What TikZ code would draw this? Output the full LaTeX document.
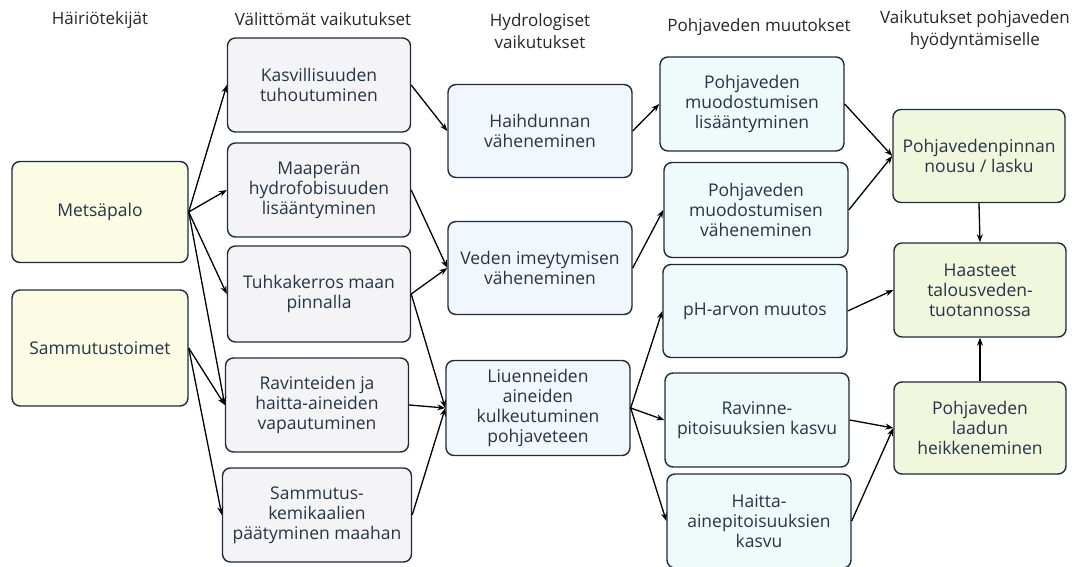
\documentclass[tikz,border=0pt]{standalone}
\usepackage{fontspec}
\setmainfont{Open Sans}
\usetikzlibrary{arrows.meta}
\definecolor{rim}{HTML}{1E2B3C}
\definecolor{ink}{HTML}{263445}
\definecolor{causefill}{HTML}{FCFBE3}
\definecolor{directfill}{HTML}{F4F4F6}
\definecolor{hydrofill}{HTML}{F1F7FC}
\definecolor{groundfill}{HTML}{EFFAFB}
\definecolor{usefill}{HTML}{F1F7DD}
\begin{document}
\begin{tikzpicture}[x=1pt, y=-1pt, >={Stealth[length=8pt,width=6pt]},
    box/.style={draw=rim, line width=1.4pt, rounded corners=8pt, align=center,
        text=ink, inner sep=0pt, minimum height=94pt,
        font=\fontsize{17.5}{20}\selectfont},
    cause/.style={box, fill=causefill, minimum width=176pt},
    direct/.style={box, fill=directfill, minimum width=183pt},
    hydro/.style={box, fill=hydrofill, minimum width=184pt},
    ground/.style={box, fill=groundfill, minimum width=184pt},
    use/.style={box, fill=usefill, minimum width=172pt},
    head/.style={align=center, text=black!85, font=\fontsize{17}{22}\selectfont},
    link/.style={->, line width=1.3pt}]
    \useasboundingbox (0,0) rectangle (1080,567);

    % otsikot
    \node[head] (h1) at (100,20) {Häiriötekijät};
    \node[head] (h2) at (323,19) {Välittömät vaikutukset};
    \node[head] (h3) at (540,31) {Hydrologiset\\vaikutukset};
    \node[head] (h4) at (759,27) {Pohjaveden muutokset};
    \node[head] (h5) at (975,30) {Vaikutukset pohjaveden\\hyödyntämiselle};

    % häiriötekijät
    \node[cause, minimum height=101pt] (fire) at (100,212) {Metsäpalo};
    \node[cause, minimum height=116pt] (ext) at (100,348) {Sammutustoimet};

    % välittömät vaikutukset
    \node[direct] (veg) at (319,85) {Kasvillisuuden\\tuhoutuminen};
    \node[direct] (hyd) at (319,190) {Maaperän\\hydrofobisuuden\\lisääntyminen};
    \node[direct, minimum height=96pt] (ash) at (319,294) {Tuhkakerros maan\\pinnalla};
    \node[direct] (nut) at (317,405) {Ravinteiden ja\\haitta-aineiden\\vapautuminen};
    \node[direct, minimum width=189pt] (chem) at (317,515) {Sammutus-\\kemikaalien\\päätyminen maahan};

    % hydrologiset vaikutukset
    \node[hydro, minimum height=93pt] (evap) at (540,131) {Haihdunnan\\väheneminen};
    \node[hydro, minimum height=93pt] (infil) at (540,268) {Veden imeytymisen\\väheneminen};
    \node[hydro, minimum height=95pt] (solu) at (538,408) {Liuenneiden\\aineiden\\kulkeutuminen\\pohjaveteen};

    % pohjaveden muutokset
    \node[ground] (rech) at (752,104) {Pohjaveden\\muodostumisen\\lisääntyminen};
    \node[ground, minimum height=95pt] (less) at (756,210) {Pohjaveden\\muodostumisen\\väheneminen};
    \node[ground, minimum height=93pt] (ph) at (755,311) {pH-arvon muutos};
    \node[ground] (nutc) at (757,420) {Ravinne-\\pitoisuuksien kasvu};
    \node[ground] (haz) at (759,521) {Haitta-\\ainepitoisuuksien\\kasvu};

    % vaikutukset hyödyntämiselle
    \node[use, minimum height=93pt] (level) at (979,156) {Pohjavedenpinnan\\nousu / lasku};
    \node[use] (supply) at (980,290) {Haasteet\\talousveden-\\tuotannossa};
    \node[use, minimum height=92pt] (qual) at (980,428) {Pohjaveden\\laadun\\heikkeneminen};

    \draw[link] (fire.east) -- (veg.west);
    \draw[link] (fire.east) -- (hyd.west);
    \draw[link] (fire.east) -- (ash.west);
    \draw[link] (fire.east) -- (nut.west);
    \draw[link] (ext.east) -- (nut.west);
    \draw[link] (ext.east) -- (chem.west);

    \draw[link] (veg.east) -- (evap.west);
    \draw[link] (hyd.east) -- (infil.west);
    \draw[link] (ash.east) -- (infil.west);
    \draw[link] (ash.east) -- (solu.west);
    \draw[link] (nut.east) -- (solu.west);
    \draw[link] (chem.east) -- (solu.west);

    \draw[link] (evap.east) -- (rech.west);
    \draw[link] (infil.east) -- (less.west);
    \draw[link] (solu.east) -- (ph.west);
    \draw[link] (solu.east) -- (nutc.west);
    \draw[link] (solu.east) -- (haz.west);

    \draw[link] (rech.east) -- (level.west);
    \draw[link] (less.east) -- (level.west);
    \draw[link] (ph.east) -- (supply.west);
    \draw[link] (nutc.east) -- (qual.west);
    \draw[link] (haz.east) -- (qual.west);
    \draw[link] (level.south) -- (supply.north);
    \draw[link] (qual.north) -- (supply.south);
\end{tikzpicture}
\end{document}
